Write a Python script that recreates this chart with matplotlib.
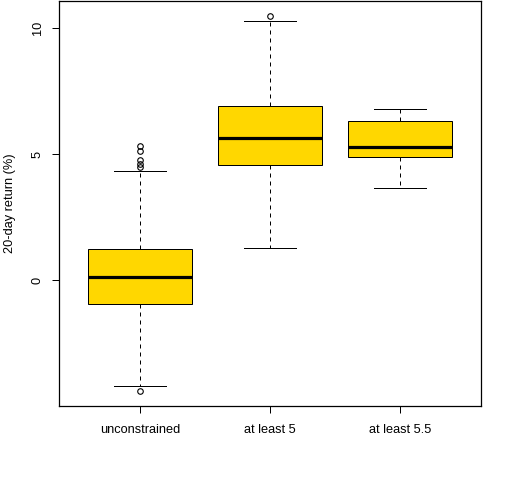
import matplotlib
matplotlib.use("Agg")
import matplotlib.pyplot as plt

# box statistics (20-day return, %)
labels = ["unconstrained", "at least 5", "at least 5.5"]
whislo = [-4.22, 1.26, 3.64]
q1 = [-0.95, 4.56, 4.87]
med = [0.11, 5.63, 5.27]
q3 = [1.23, 6.89, 6.30]
whishi = [4.31, 10.30, 6.79]
fliers = [[-4.40, 4.50, 4.62, 4.76, 5.13, 5.33], [10.48], []]

plt.rcParams['font.family'] = ['Liberation Sans', 'DejaVu Sans']
plt.rcParams['font.size'] = 9.2

stats = []
for i in range(len(labels)):
    stats.append({'label': labels[i], 'whislo': whislo[i], 'q1': q1[i], 'med': med[i],
                  'q3': q3[i], 'whishi': whishi[i], 'fliers': fliers[i]})

fig = plt.figure(figsize=(5.12, 4.8), dpi=100)
ax = fig.add_axes([59 / 512, 74 / 480, 422 / 512, 405 / 480])

ax.bxp(stats, positions=[1, 2, 3], widths=0.8, patch_artist=True,
       boxprops=dict(facecolor='#FFD700', edgecolor='black', linewidth=0.72),
       medianprops=dict(color='black', linewidth=2.3, solid_capstyle='butt'),
       whiskerprops=dict(color='black', linewidth=0.72, linestyle=(0, (4, 4))),
       capprops=dict(color='black', linewidth=0.72),
       capwidths=0.4,
       flierprops=dict(marker='o', markersize=4, markerfacecolor='none',
                       markeredgecolor='black', markeredgewidth=0.8))

ax.set_xlim(0.38, 3.62)
ax.set_ylim(-4.995, 11.075)
ax.set_yticks([0, 5, 10])
ax.set_yticklabels(['0', '5', '10'], rotation=90, va='center')
ax.tick_params(axis='both', length=5, width=0.72, colors='black')
ax.tick_params(axis='y', pad=6)
ax.tick_params(axis='x', pad=8)
for s in ax.spines.values():
    s.set_linewidth(0.9)
ax.set_ylabel('20-day return (%)')
ax.yaxis.set_label_coords(-0.103, 0.5)

fig.savefig('out.png', dpi=100)
